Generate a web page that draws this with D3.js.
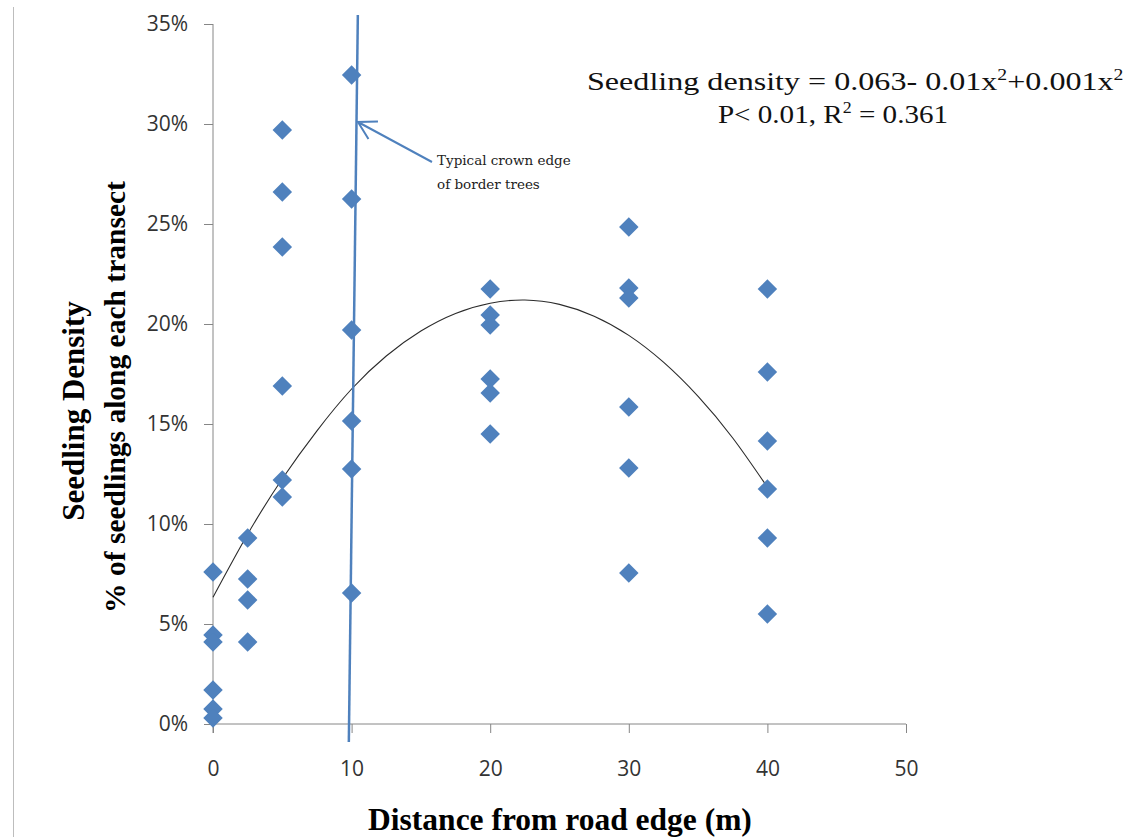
<!DOCTYPE html>
<html>
<head>
<meta charset="utf-8">
<script src="https://cdn.jsdelivr.net/npm/d3@7/dist/d3.min.js"></script>
<style>
  html, body { margin: 0; padding: 0; background: #fff; }
  svg { display: block; }
</style>
</head>
<body>
<div id="chart"></div>
<script>
// Distance of each sampling point from the road edge (m)
const distanceM = [0, 2.5, 5, 10, 20, 30, 40];

// Seedling density (% of seedlings along each transect) at each distance
const densityPct = [
  [7.6, 4.45, 4.1, 1.7, 0.75, 0.3],
  [9.3, 7.25, 6.2, 4.1],
  [29.7, 26.6, 23.85, 16.9, 12.2, 11.35],
  [32.45, 26.25, 19.7, 15.15, 12.75, 6.55],
  [21.75, 20.45, 19.95, 17.25, 16.55, 14.5],
  [24.85, 21.8, 21.3, 15.85, 12.8, 7.55],
  [21.75, 17.6, 14.15, 11.75, 9.3, 5.5]
];

// Polynomial trend line, sampled along the distance axis
const trendX   = [0, 2.5, 5, 7.5, 10, 12.5, 15, 17.5, 20, 22.5, 25, 27.5, 30, 32.5, 35, 37.5, 40];
const trendPct = [6.34, 9.49, 12.26, 14.66, 16.75, 18.4, 19.65, 20.53, 21.04, 21.2, 20.98, 20.39, 19.43, 18.09, 16.38, 14.3, 11.84];

// Typical crown edge of border trees (drawn as a near-vertical line)
const crownEdgeX   = [9.8, 10.45];
const crownEdgePct = [-0.9, 35.45];

// Annotation arrow: tail then tip
const arrowX   = [15.8, 10.46];
const arrowPct = [28.1, 30.1];

// Axis ticks
const xTicks = [0, 10, 20, 30, 40, 50];
const yTicks = [0, 5, 10, 15, 20, 25, 30, 35];

const W = 1125, H = 837;
const blue = "#4f81bd";
const axisGrey = "#868686";
const serif = "'Liberation Serif', 'Times New Roman', serif";

const svg = d3.select("#chart").append("svg")
  .attr("width", W).attr("height", H);

const x = d3.scaleLinear().domain([0, 50]).range([213, 906]);
const y = d3.scaleLinear().domain([0, 35]).range([724, 24]);

// Thin frame line at the left edge
svg.append("line")
  .attr("x1", 13.5).attr("x2", 13.5).attr("y1", 7).attr("y2", H)
  .attr("stroke", "#bdbdbd").attr("stroke-width", 1);

// Y axis
const yAxis = svg.append("g")
  .attr("transform", `translate(${x(0)},0)`)
  .call(d3.axisLeft(y).tickValues(yTicks).tickFormat(d => d + "%").tickSize(9).tickSizeOuter(0));
yAxis.select(".domain").remove();
yAxis.append("line")
  .attr("x1", 0).attr("x2", 0).attr("y1", y(35)).attr("y2", y(0) + 9)
  .attr("stroke", axisGrey);
yAxis.selectAll(".tick line").attr("stroke", axisGrey);
yAxis.selectAll(".tick text")
  .attr("x", -25)
  .attr("fill", "#333")
  .style("font-family", "'Open Sans', sans-serif")
  .style("font-size", "21px");

// X axis
const xAxis = svg.append("g")
  .attr("transform", `translate(0,${y(0)})`)
  .call(d3.axisBottom(x).tickValues(xTicks).tickSize(9).tickSizeOuter(0));
xAxis.select(".domain").attr("stroke", axisGrey).attr("d", `M${x(0)},0H${x(50)}`);
xAxis.selectAll(".tick line").attr("stroke", axisGrey);
xAxis.selectAll(".tick text")
  .attr("y", 37)
  .attr("fill", "#333")
  .style("font-family", "'Open Sans', sans-serif")
  .style("font-size", "21px");

// Trend line
svg.append("path")
  .datum(trendX.map((d, i) => [d, trendPct[i]]))
  .attr("fill", "none")
  .attr("stroke", "#2b2b2b")
  .attr("stroke-width", 1.1)
  .attr("d", d3.line().x(d => x(d[0])).y(d => y(d[1])).curve(d3.curveNatural));

// Crown edge line
svg.append("line")
  .attr("x1", x(crownEdgeX[0])).attr("y1", y(crownEdgePct[0]))
  .attr("x2", x(crownEdgeX[1])).attr("y2", y(crownEdgePct[1]))
  .attr("stroke", blue).attr("stroke-width", 2.5);

// Data points (diamonds)
const points = [];
distanceM.forEach((d, i) => densityPct[i].forEach(v => points.push([d, v])));
const diamond = d3.symbol().type(d3.symbolSquare).size(190);
svg.append("g").selectAll("path")
  .data(points)
  .join("path")
  .attr("d", diamond)
  .attr("transform", d => `translate(${x(d[0])},${y(d[1])}) rotate(45)`)
  .attr("fill", blue);

// Annotation arrow with open head
const tail = [x(arrowX[0]), y(arrowPct[0])];
const tip = [x(arrowX[1]), y(arrowPct[1])];
const ang = Math.atan2(tail[1] - tip[1], tail[0] - tip[0]);
const headLen = 20, headSpread = Math.PI / 6;
const arm = a => [tip[0] + headLen * Math.cos(a), tip[1] + headLen * Math.sin(a)];
const a1 = arm(ang - headSpread), a2 = arm(ang + headSpread);
svg.append("path")
  .attr("d", `M${tail[0]},${tail[1]}L${tip[0]},${tip[1]}M${a1[0]},${a1[1]}L${tip[0]},${tip[1]}L${a2[0]},${a2[1]}`)
  .attr("fill", "none")
  .attr("stroke", blue)
  .attr("stroke-width", 2);

const note = svg.append("text")
  .style("font-family", "'DejaVu Serif', serif")
  .style("font-size", "13.5px")
  .attr("fill", "#222");
note.append("tspan").attr("x", 437).attr("y", 165).text("Typical crown edge");
note.append("tspan").attr("x", 437).attr("y", 189).text("of border trees");

// Regression equation
const eq = svg.append("g").attr("transform", "translate(587,90) scale(1.235,1)")
  .append("text")
  .style("font-family", serif)
  .style("font-size", "26px")
  .attr("fill", "#111");
eq.append("tspan").text("Seedling density = 0.063- 0.01x");
eq.append("tspan").attr("dy", -10).style("font-size", "16px").text("2");
eq.append("tspan").attr("dy", 10).text("+0.001x");
eq.append("tspan").attr("dy", -10).style("font-size", "16px").text("2");

const stat = svg.append("g").attr("transform", "translate(833,123) scale(1.12,1)")
  .append("text")
  .attr("text-anchor", "middle")
  .style("font-family", serif)
  .style("font-size", "26px")
  .attr("fill", "#111");
stat.append("tspan").text("P< 0.01, R");
stat.append("tspan").attr("dy", -10).style("font-size", "16px").text("2");
stat.append("tspan").attr("dy", 10).text(" = 0.361");

// Axis titles
svg.append("text")
  .attr("x", 560).attr("y", 830)
  .attr("text-anchor", "middle")
  .style("font-family", serif)
  .style("font-weight", "bold")
  .style("font-size", "31.5px")
  .attr("fill", "#000")
  .text("Distance from road edge (m)");

const yTitle = svg.append("g").attr("transform", "translate(0,404) rotate(-90)");
yTitle.append("text")
  .attr("x", -7).attr("y", 84)
  .attr("text-anchor", "middle")
  .style("font-family", serif)
  .style("font-weight", "bold")
  .style("font-size", "31px")
  .text("Seedling Density");
yTitle.append("text")
  .attr("x", 7).attr("y", 125)
  .attr("text-anchor", "middle")
  .style("font-family", serif)
  .style("font-weight", "bold")
  .style("font-size", "29.5px")
  .text("% of seedlings along each transect");
</script>
</body>
</html>
